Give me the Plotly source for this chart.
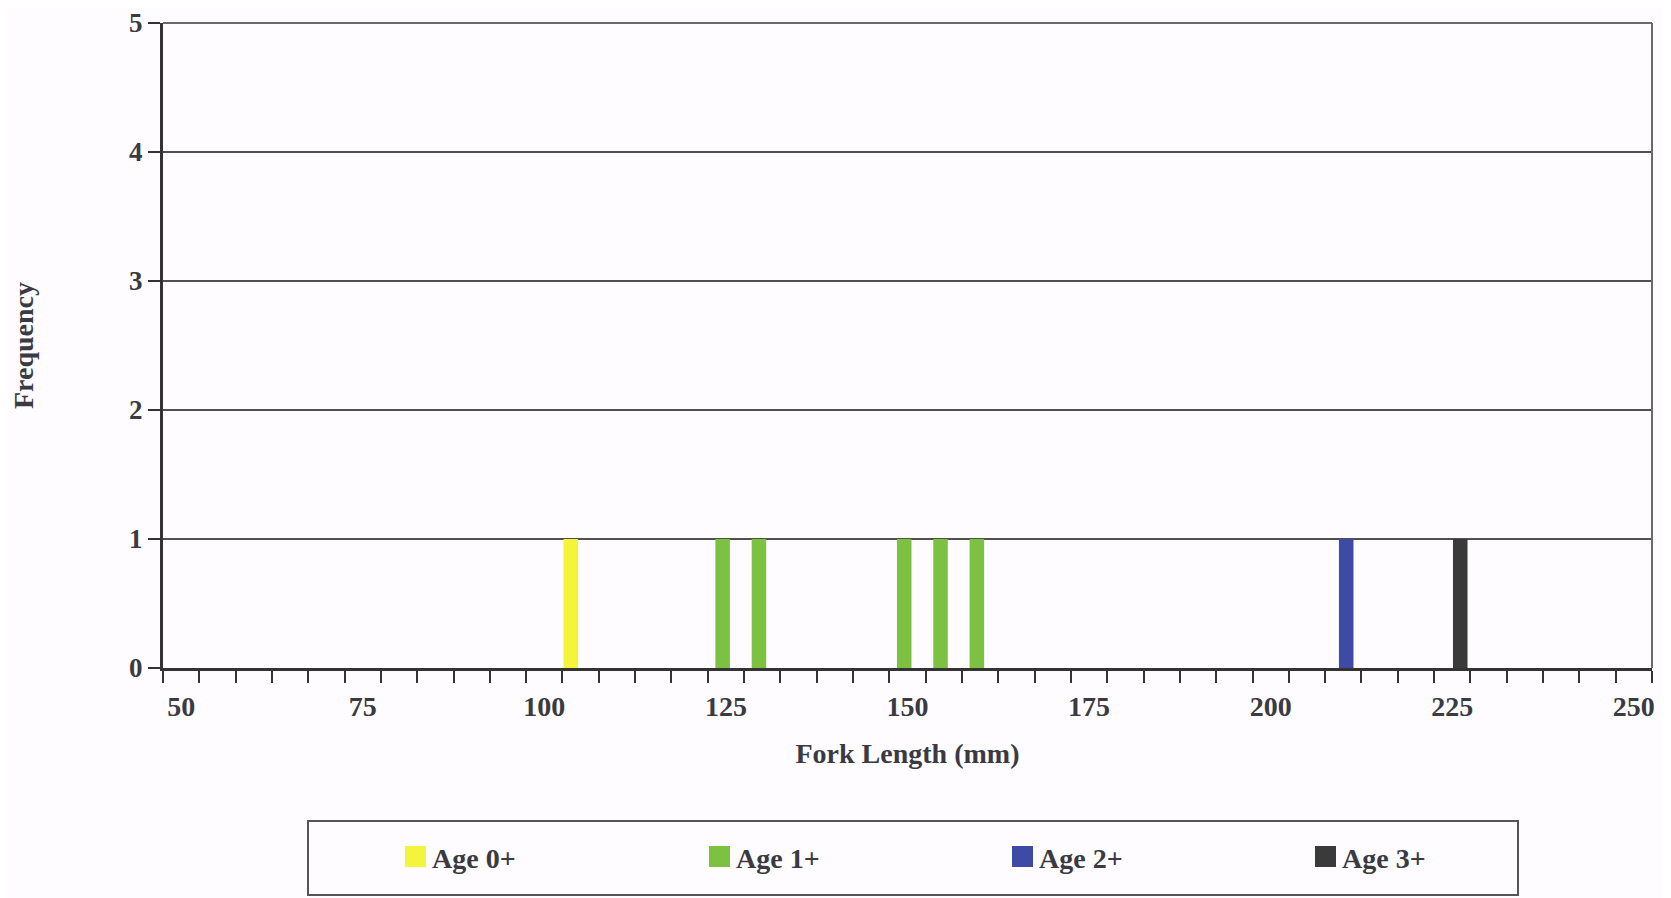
import plotly.graph_objects as go

# ---------------- data ----------------
fork_length_bins = [50, 55, 60, 65, 70, 75, 80, 85, 90, 95, 100, 105, 110, 115, 120,
                    125, 130, 135, 140, 145, 150, 155, 160, 165, 170, 175, 180, 185,
                    190, 195, 200, 205, 210, 215, 220, 225, 230, 235, 240, 245, 250]
x_tick_labels = [50, 75, 100, 125, 150, 175, 200, 225, 250]
y_ticks = [0, 1, 2, 3, 4, 5]

age_names = ["Age 0+", "Age 1+", "Age 2+", "Age 3+"]
age0_length = [105]
age0_freq = [1]
age1_length = [125, 130, 150, 155, 160]
age1_freq = [1, 1, 1, 1, 1]
age2_length = [210]
age2_freq = [1]
age3_length = [225]
age3_freq = [1]

# ---------------- style ----------------
colors = ["#f4f43a", "#7cc142", "#3d4ba6", "#3a3a3a"]
slot_centers = [-1.35, -0.45, 0.4, 1.1]   # position of each age series inside a 5 mm bin
bar_w = 2.0
font_family = "Liberation Serif"
font_size = 28
text_color = "#3a3a42"
axis_color = "#333333"
grid_color = "#505050"
bg = "#fefcfe"

# page has an 8px body margin; figure sized so that plot sits where the reference has it
PAGE_OFF = 8
FIG_W, FIG_H = 1671 - PAGE_OFF, 898 - PAGE_OFF
M_L, M_R, M_T, M_B = 163 - PAGE_OFF, 19, 23 - PAGE_OFF, 230

series = [(age0_length, age0_freq), (age1_length, age1_freq),
          (age2_length, age2_freq), (age3_length, age3_freq)]

fig = go.Figure()
for (xs, ys), name, col, sc in zip(series, age_names, colors, slot_centers):
    fig.add_trace(go.Bar(
        x=xs, y=ys, name=name, width=bar_w, offset=sc - bar_w / 2,
        marker=dict(color=col, line=dict(width=0)), showlegend=False,
    ))

half = (fork_length_bins[1] - fork_length_bins[0]) / 2
boundaries = [b - half for b in fork_length_bins] + [fork_length_bins[-1] + half]

title_font = dict(family=font_family, size=font_size, color=text_color, weight="bold")

fig.update_layout(
    width=FIG_W, height=FIG_H, autosize=False,
    margin=dict(l=M_L, r=M_R, t=M_T, b=M_B, autoexpand=False),
    paper_bgcolor=bg, plot_bgcolor=bg,
    barmode="overlay",
    font=dict(family=font_family, size=font_size, color=text_color, weight="bold"),
    xaxis=dict(
        automargin=False,
        range=[boundaries[0], boundaries[-1]],
        tickmode="array", tickvals=x_tick_labels,
        ticks="outside", ticklen=11, tickcolor="rgba(0,0,0,0)",
        ticklabeloverflow="allow",
        minor=dict(tickmode="array", tickvals=boundaries, ticks="outside",
                   ticklen=12, tickwidth=2, tickcolor=axis_color, showgrid=False),
        showline=True, linecolor=axis_color, linewidth=3,
        showgrid=False, zeroline=False,
        title=dict(text="Fork Length (mm)", standoff=23, font=title_font),
    ),
    yaxis=dict(
        automargin=False,
        range=[0, 5], tickmode="array", tickvals=y_ticks,
        ticks="outside", ticklen=12, tickwidth=2, tickcolor=axis_color,
        tickfont=dict(size=27),
        ticklabeloverflow="allow",
        showline=True, linecolor=axis_color, linewidth=3,
        showgrid=True, gridcolor=grid_color, gridwidth=2, zeroline=False,
        title=dict(text="Frequency", standoff=92, font=title_font),
    ),
)

# plot frame (top and right)
fig.add_shape(type="line", xref="paper", yref="paper", x0=0, x1=1, y0=1, y1=1,
              line=dict(color="#6a6a6a", width=2))
fig.add_shape(type="line", xref="paper", yref="paper", x0=1, x1=1, y0=0, y1=1,
              line=dict(color="#6a6a6a", width=2))

# legend box (drawn manually to match the large swatches); positions given in page pixels
plot_w = FIG_W - M_L - M_R
plot_h = FIG_H - M_T - M_B
def px_to_paper_x(px):
    return (px - PAGE_OFF - M_L) / plot_w
def px_to_paper_y(py):
    return (FIG_H - M_B - (py - PAGE_OFF)) / plot_h

fig.add_shape(type="rect", xref="paper", yref="paper",
              x0=px_to_paper_x(308), x1=px_to_paper_x(1518),
              y0=px_to_paper_y(821), y1=px_to_paper_y(895),
              line=dict(color="#555555", width=2), fillcolor="rgba(0,0,0,0)")

swatch_left = [405, 709, 1012, 1315]
for name, col, sl in zip(age_names, colors, swatch_left):
    fig.add_shape(type="rect", xref="paper", yref="paper",
                  x0=px_to_paper_x(sl), x1=px_to_paper_x(sl + 21),
                  y0=px_to_paper_y(846), y1=px_to_paper_y(867),
                  line=dict(width=0), fillcolor=col)
    fig.add_annotation(text=name, xref="paper", yref="paper",
                       x=px_to_paper_x(sl + 25), y=px_to_paper_y(858),
                       xanchor="left", yanchor="middle", showarrow=False,
                       font=title_font)

fig.write_html("out.html")
